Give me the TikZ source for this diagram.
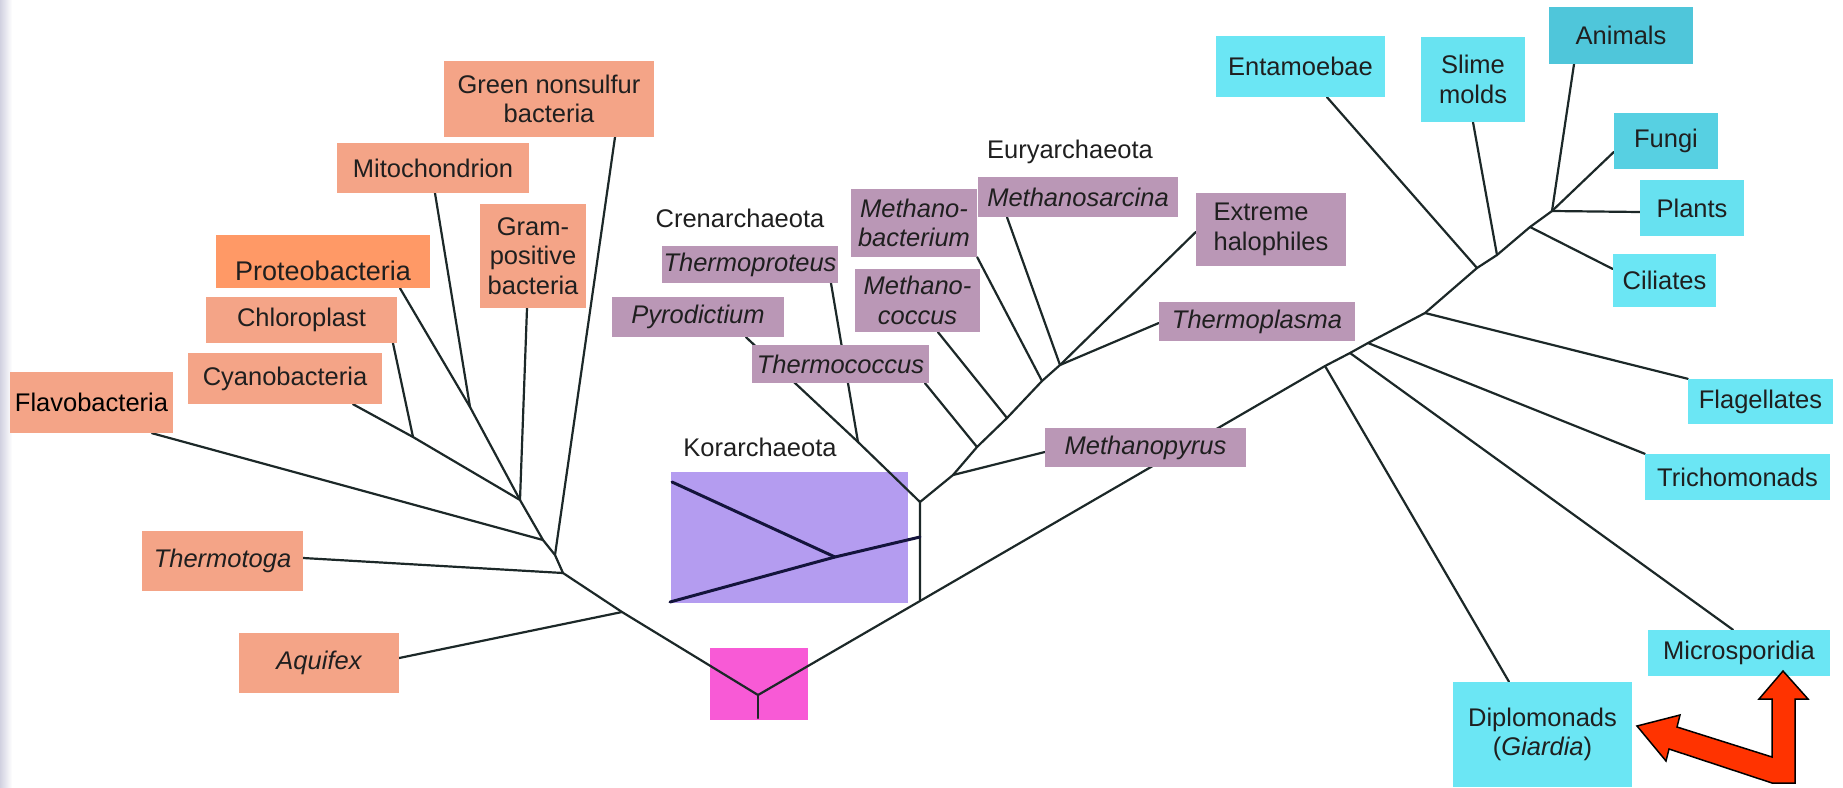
\documentclass[tikz,border=0pt]{standalone}
\usepackage{fontspec}
\setmainfont{Liberation Sans}
\pgfdeclarelayer{back}
\pgfdeclarelayer{edges}
\pgfsetlayers{back,edges,main}
\definecolor{salmon}{HTML}{F4A487}
\definecolor{orangebox}{HTML}{FF9966}
\definecolor{mauve}{HTML}{BA97B6}
\definecolor{lilac}{HTML}{B49CF0}
\definecolor{rootpink}{HTML}{F85AD6}
\definecolor{cyanbox}{HTML}{6BE6F4}
\definecolor{tealbox}{HTML}{4FC6DA}
\definecolor{linecol}{HTML}{1C2828}
\definecolor{korline}{HTML}{14143C}
\definecolor{arrowred}{HTML}{FF3300}

\begin{document}
\begin{tikzpicture}[x=1pt, y=-1pt, font=\fontsize{25.5}{29.5}\selectfont,
	branch/.style={draw=linecol, line width=2.2pt, line cap=round},
	korbranch/.style={draw=korline, line width=3pt, line cap=round},
	box/.style={inner sep=0pt, align=center, text=black!88},
	bact/.style={box, fill=salmon},
	archbox/.style={box, fill=mauve},
	arch/.style={archbox, font=\fontsize{25.5}{29.5}\selectfont\itshape},
	euk/.style={box, fill=cyanbox},
	clade/.style={inner sep=0pt, text=black!88}]

\useasboundingbox (0,0) rectangle (1843,787);
\fill[left color=blue!20!gray!30, right color=white] (0,0) rectangle (12,787);

% bacteria
\node[bact, minimum width=210pt, minimum height=76pt] (gns) at (549,99) {Green nonsulfur\\bacteria};
\node[bact, minimum width=192pt, minimum height=50pt] (mito) at (433,168) {Mitochondrion};
\node[bact, minimum width=106pt, minimum height=104pt] (gram) at (533,256) {Gram-\\positive\\bacteria};
\node[bact, fill=orangebox, font=\fontsize{27}{30}\selectfont, text height=38pt, text depth=0pt, minimum width=214pt, minimum height=53pt] (proteo) at (323,261.5) {Proteobacteria};
\node[bact, minimum width=191pt, minimum height=46pt] (chloro) at (301.5,320) {Chloroplast};
\node[bact, minimum width=194pt, minimum height=51pt] (cyano) at (285,378.5) {Cyanobacteria};
\node[bact, text=black, minimum width=163pt, minimum height=61pt] (flavo) at (91.5,402.5) {Flavobacteria};
\node[bact, font=\fontsize{25.5}{29.5}\selectfont\itshape, minimum width=161pt, minimum height=60pt] (tmtoga) at (222.5,561) {Thermotoga};
\node[bact, font=\fontsize{25.5}{29.5}\selectfont\itshape, minimum width=160pt, minimum height=60pt] (aquifex) at (319,663) {Aquifex};

% archaea
\node[clade] (crentxt) at (740,218) {Crenarchaeota};
\node[clade] (eurytxt) at (1070,152) {Euryarchaeota};
\node[clade] (kortxt) at (760,447) {Korarchaeota};
\node[arch, minimum width=176pt, minimum height=37pt] (tproteus) at (750,264.5) {Thermoproteus};
\node[arch, minimum width=172pt, minimum height=40pt] (pyro) at (698,317) {Pyrodictium};
\node[arch, minimum width=177pt, minimum height=38pt] (tcoccus) at (840.5,364) {Thermococcus};
\node[arch, minimum width=126pt, minimum height=68pt] (mbact) at (914,223) {Methano-\\bacterium};
\node[arch, minimum width=125pt, minimum height=63pt] (mcoccus) at (917.5,300.5) {Methano-\\coccus};
\node[arch, minimum width=200pt, minimum height=40pt] (msarcina) at (1078,197) {Methanosarcina};
\node[archbox, align=left, minimum width=150pt, minimum height=73pt] (halo) at (1271,229.5) {Extreme\\halophiles};
\node[arch, minimum width=196pt, minimum height=39pt] (tplasma) at (1257,321.5) {Thermoplasma};
\node[arch, minimum width=201pt, minimum height=39pt] (mpyrus) at (1145.5,447.5) {Methanopyrus};

% eukaryotes
\node[euk, minimum width=169pt, minimum height=61pt] (entam) at (1300.5,66.5) {Entamoebae};
\node[euk, fill=cyanbox!90!tealbox, minimum width=104pt, minimum height=85pt] (slime) at (1473,79.5) {Slime\\molds};
\node[euk, fill=tealbox, minimum width=144pt, minimum height=57pt] (animals) at (1621,35.5) {Animals};
\node[euk, fill=tealbox!70!cyanbox, minimum width=104pt, minimum height=56pt] (fungi) at (1666,141) {Fungi};
\node[euk, fill=cyanbox!85!tealbox, minimum width=104pt, minimum height=56pt] (plants) at (1692,208) {Plants};
\node[euk, minimum width=103pt, minimum height=53pt] (cili) at (1664.5,280.5) {Ciliates};
\node[euk, minimum width=145pt, minimum height=45pt] (flag) at (1760.5,401.5) {Flagellates};
\node[euk, minimum width=185pt, minimum height=46pt] (trich) at (1737.5,477) {Trichomonads};
\node[euk, minimum width=182pt, minimum height=46pt] (micro) at (1739,653) {Microsporidia};
\node[euk, minimum width=179pt, minimum height=105pt] (diplo) at (1542.5,734.5) {Diplomonads\\(\textit{Giardia})};

% junctions
\coordinate (cc) at (413,437);
\coordinate (pm) at (470,407);
\coordinate (b1) at (520,500);
\coordinate (b2) at (543,540);
\coordinate (b3) at (555,555);
\coordinate (b4) at (563,573);
\coordinate (b5) at (622,612);
\coordinate (root) at (758,695);
\coordinate (rootend) at (758,718);
\coordinate (ak) at (920,600);
\coordinate (akor) at (920,537);
\coordinate (aa) at (920,502);
\coordinate (cren) at (858,442);
\coordinate (e1) at (953,475);
\coordinate (e2) at (977,447);
\coordinate (e3) at (1007,418);
\coordinate (e4) at (1042,381);
\coordinate (e5) at (1060,365);
\coordinate (k1) at (672,482);
\coordinate (k2) at (670,602);
\coordinate (kj) at (835,557);
\coordinate (d1) at (1325,366);
\coordinate (d2) at (1350,353);
\coordinate (d3) at (1368,343);
\coordinate (d4) at (1425,313);
\coordinate (d5) at (1477,268);
\coordinate (d6) at (1497,255);
\coordinate (d7) at (1530,227);
\coordinate (d8) at (1552,211);

\begin{pgfonlayer}{back}
\node[fill=lilac, inner sep=0pt, minimum width=237pt, minimum height=131pt] (korbox) at (789.5,537.5) {};
\node[fill=rootpink, inner sep=0pt, minimum width=98pt, minimum height=72pt] (rootbox) at (759,684) {};
\end{pgfonlayer}

\begin{pgfonlayer}{edges}
\draw[branch] ([xshift=60.5pt]flavo.south) to (b2);
\draw[branch] ([xshift=68pt]cyano.south) to (cc);
\draw[branch] ([xshift=91.5pt]chloro.south) to (cc);
\draw[branch] ([xshift=77pt]proteo.south) to (pm);
\draw[branch] ([xshift=2pt]mito.south) to (pm);
\draw[branch] ([xshift=-6pt]gram.south) to (b1);
\draw[branch] ([xshift=66pt]gns.south) to (b3);
\draw[branch] ([yshift=3pt]tmtoga.east) to (b4);
\draw[branch] ([yshift=5pt]aquifex.east) to (b5);
\draw[branch] (cc) to (b1);
\draw[branch] (pm) -- (b1) -- (b2) -- (b3) -- (b4) -- (b5) -- (root);
\draw[branch] (root) -- (rootend);
\draw[branch] (root) -- (d1) -- (d2) -- (d3) -- (d4) -- (d5) -- (d6) -- (d7) -- (d8);

\draw[branch] (ak) -- (aa) -- (e1) -- (e2) -- (e3) -- (e4) -- (e5);
\draw[branch] (aa) -- (cren);
\draw[branch] ([xshift=48pt]pyro.south) to (cren);
\draw[branch] ([xshift=81pt]tproteus.south) to (cren);
\draw[branch] ([yshift=-4.5pt]mpyrus.west) to (e1);
\draw[branch] ([xshift=84.5pt]tcoccus.south) to (e2);
\draw[branch] ([xshift=20.5pt]mcoccus.south) to (e3);
\draw[branch] (mbact.south east) to (e4);
\draw[branch] ([xshift=-71pt]msarcina.south) to (e5);
\draw[branch] ([yshift=-2.5pt]halo.west) to (e5);
\draw[branch] ([yshift=-1.5pt]tplasma.west) to (e5);
\draw[korbranch] (k1) -- (kj);
\draw[korbranch] (k2) -- (kj) -- (akor);

\draw[branch] ([xshift=-33.5pt]diplo.north) to (d1);
\draw[branch] ([xshift=-6pt]micro.north) to (d2);
\draw[branch] (trich.north west) to (d3);
\draw[branch] (flag.north west) to (d4);
\draw[branch] ([xshift=26.5pt]entam.south) to (d5);
\draw[branch] (slime.south) to (d6);
\draw[branch] ([yshift=11.5pt]cili.west) to (d7);
\draw[branch] ([yshift=-4pt]plants.west) to (d8);
\draw[branch] ([yshift=-11pt]fungi.west) to (d8);
\draw[branch] ([xshift=-47pt]animals.south) to (d8);
\end{pgfonlayer}

% red arrows
\filldraw[fill=arrowred, draw=black, line width=1.5pt, line join=miter]
  (1795,783) -- (1795,699) -- (1808,699) -- (1783,671) -- (1759,699) -- (1772,699)
  -- (1772,757) -- (1677,727) -- (1680,715) -- (1637,726) -- (1666,761) -- (1669,749)
  -- (1772,783) -- cycle;

\end{tikzpicture}
\end{document}
